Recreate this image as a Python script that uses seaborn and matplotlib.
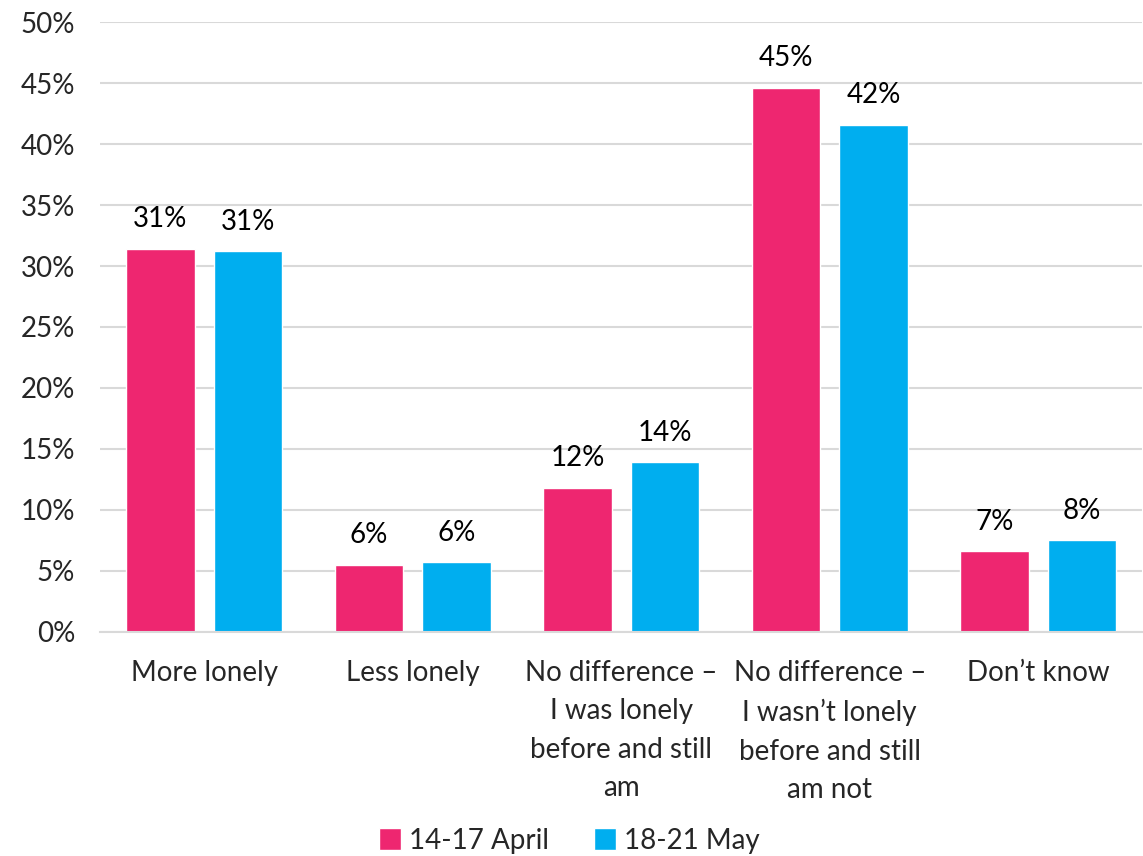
import matplotlib
matplotlib.use('Agg')
import matplotlib.pyplot as plt
import seaborn as sns
import pandas as pd

# data (percent)
categories = ['More lonely', 'Less lonely',
              'No difference –\nI was lonely\nbefore and still\nam',
              'No difference –\nI wasn’t lonely\nbefore and still\nam not',
              'Don’t know']
april = [31.4, 5.5, 11.8, 44.6, 6.6]
may = [31.2, 5.7, 13.9, 41.6, 7.5]
labels_april = ['31%', '6%', '12%', '45%', '7%']
labels_may = ['31%', '6%', '14%', '42%', '8%']
series = ['14-17 April', '18-21 May']
colors = ['#EE2670', '#00AEEF']

df = pd.DataFrame({
    'cat': categories * 2,
    'val': april + may,
    'wave': [series[0]] * 5 + [series[1]] * 5,
})

sns.set_style('white')
plt.rcParams['font.family'] = ['Lato', 'DejaVu Sans']
fs = 20

fig = plt.figure(figsize=(11.43, 8.56), dpi=100)
ax = fig.add_axes([0.0875, 0.262, 0.912, 0.712])

sns.barplot(data=df, x='cat', y='val', hue='wave', palette=colors,
            width=0.84, gap=0.22, ax=ax, saturation=1, legend=True)

for cont, labs in zip(ax.containers, [labels_april, labels_may]):
    ax.bar_label(cont, labels=labs, padding=12, fontsize=fs, color='#000000')

ax.set_ylim(0, 50)
ax.set_yticks(range(0, 51, 5))
ax.set_yticklabels([f'{v}%' for v in range(0, 51, 5)], fontsize=fs)
ax.yaxis.grid(True, color='#D9D9D9', linewidth=1.5)
ax.set_axisbelow(True)
ax.tick_params(axis='x', labelsize=fs, length=0, pad=20)
ax.tick_params(axis='y', length=0, pad=18)
for lbl in ax.get_xticklabels():
    lbl.set_linespacing(1.6)
ax.set_xlim(-0.5, 4.5)
ax.set_xlabel('')
ax.set_ylabel('')
sns.despine(ax=ax, left=True, bottom=False)
ax.spines['bottom'].set_color('#D9D9D9')
ax.spines['bottom'].set_linewidth(1.5)

ax.legend(loc='lower center', bbox_to_anchor=(0.45, -0.405), ncol=2,
          frameon=False, fontsize=fs, handlelength=0.8, handleheight=0.8,
          handletextpad=0.3, columnspacing=1.6)

fig.savefig('out.png', dpi=100)
